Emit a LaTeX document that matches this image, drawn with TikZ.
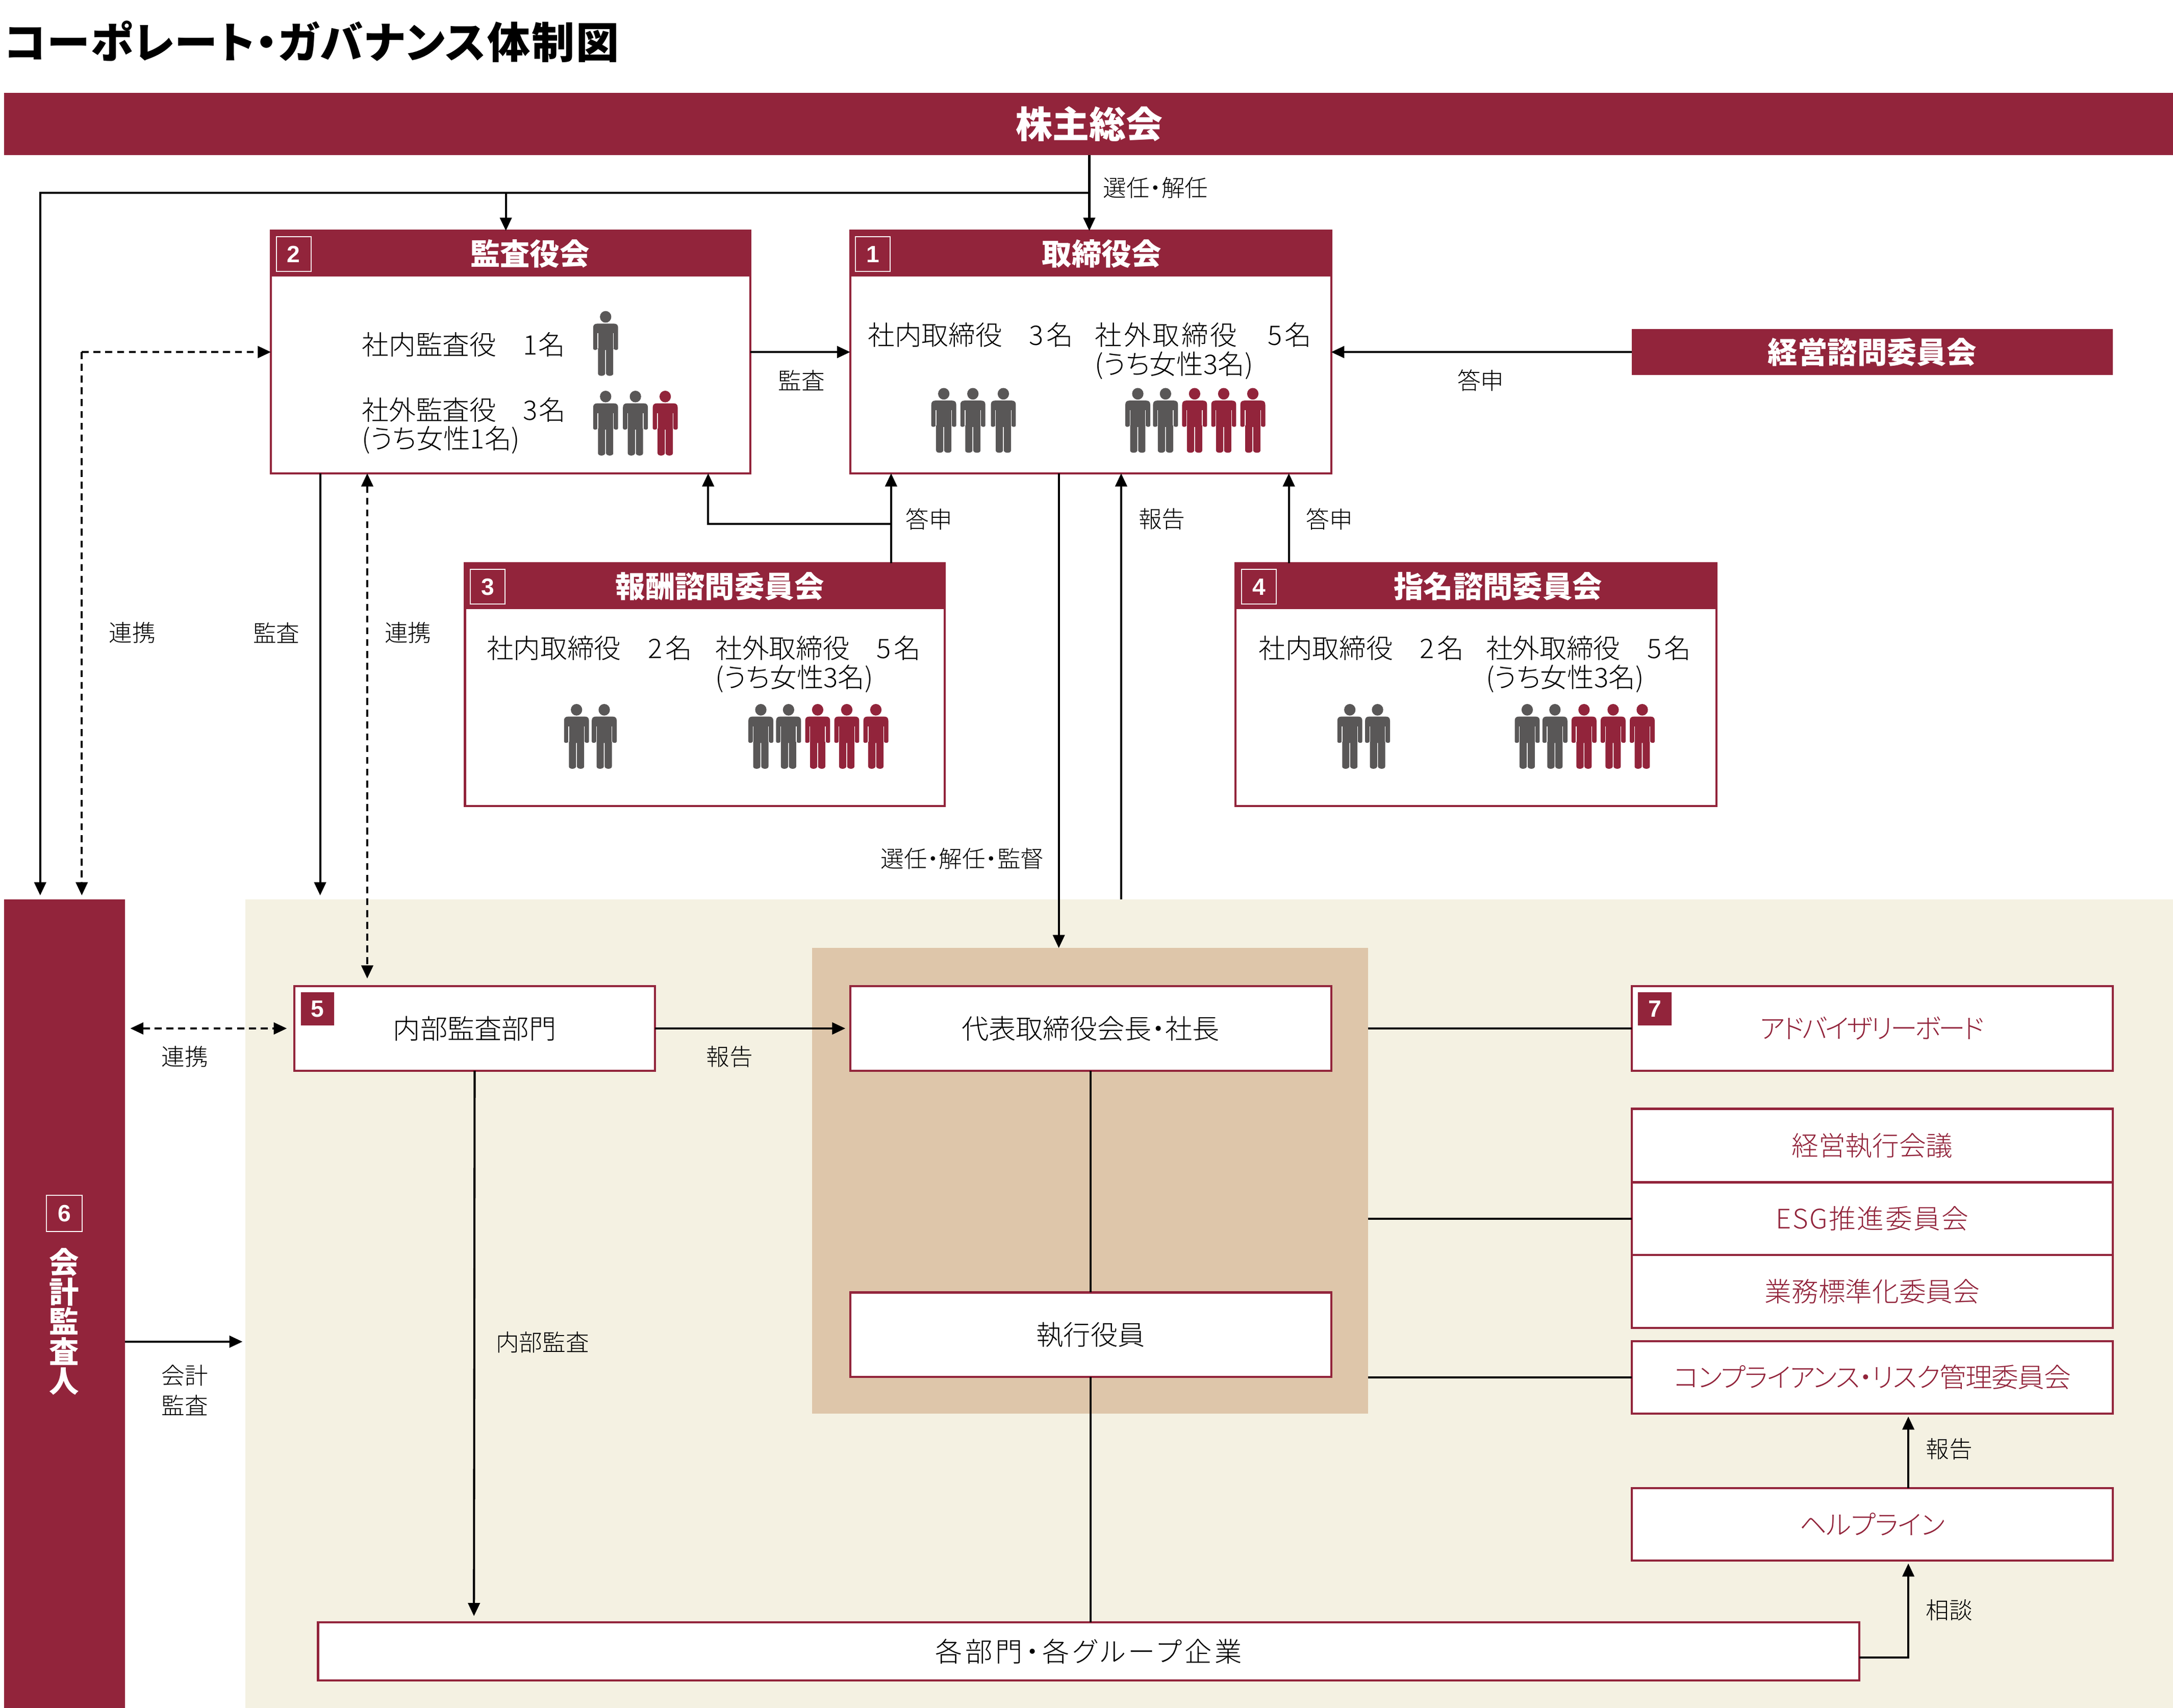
\documentclass[tikz,border=0pt]{standalone}
\usepackage{fontspec}
\setmainfont{Noto Sans CJK JP Light}[BoldFont={Noto Sans CJK JP Black},RawFeature={+palt}]
\newfontfamily\digitfont{Liberation Sans}[BoldFont={Liberation Sans Bold}]
\usetikzlibrary{arrows.meta,calc}
\definecolor{crim}{HTML}{92243B}
\definecolor{gry}{HTML}{595757}
\definecolor{crm}{HTML}{F4F1E2}
\definecolor{tan}{HTML}{DEC6AA}
\newcommand{\nd}{・}
\newcommand{\fs}[1]{\fontsize{#1}{#1}\selectfont}
\newcommand{\lsp}[1]{\addfontfeature{LetterSpace=#1}}
\newcommand{\fig}[3]{%
\begin{scope}[shift={(#1,#2)}]
\fill[#3] (0,4.1) ellipse [x radius=4.1,y radius=4.2];
\fill[#3] (-9,12) .. controls (-9,10) and (-8,9) .. (-6,9) -- (6,9) .. controls (8,9) and (9,10) .. (9,12) -- (9,27) .. controls (9,28.3) and (6.2,28.3) .. (5.8,27) -- (5.5,27) -- (5.5,45) .. controls (5.5,47.2) and (0.6,47.2) .. (0.3,45) -- (0.3,28) -- (-0.3,28) -- (-0.3,45) .. controls (-0.6,47.2) and (-5.5,47.2) .. (-5.5,45) -- (-5.5,27) -- (-5.8,27) .. controls (-6.2,28.3) and (-9,28.3) .. (-9,27) -- cycle;
\draw[white,line width=.5] (-5.6,16) -- (-5.6,27) (5.6,16) -- (5.6,27);
\end{scope}}
\tikzset{
 x=1pt,y=-1pt,
 conn/.style={line width=1.5,black},
 arr/.style={conn,-{Triangle[length=9.5,width=8.5]}},
 darr/.style={conn,dash pattern=on 5 off 3.5,{Triangle[length=9.5,width=8.5]}-{Triangle[length=9.5,width=8.5]}},
 dsarr/.style={conn,dash pattern=on 5 off 3.5,-{Triangle[length=9.5,width=8.5]}},
 lab/.style={inner sep=0,yshift=-.5pt,xshift=.4pt,font=\fs{16.8}},
 txt/.style={inner sep=0,yshift=-.6pt,font=\fs{19.4},anchor=west},
 boxhead/.style={inner sep=0,outer sep=0,xshift=.4pt,yshift=-.5pt,fill=crim,text=white,font=\bfseries\fs{21.5},anchor=north west},
 frame/.style={draw=crim,line width=1.5,fill=white,inner sep=0,outer sep=0,xshift=.5pt,yshift=-.5pt,anchor=north west},
 rbox/.style={frame,text=crim,font=\fs{19.4}},
 wbox/.style={frame,font=\fs{19.6}},
 numo/.style={draw=white,line width=.8,text=white,inner sep=0,outer sep=0,xshift=.4pt,yshift=-.4pt,minimum width=25,minimum height=25,font=\digitfont\bfseries\fs{17},anchor=north west},
 numf/.style={fill=crim,text=white,inner sep=0,outer sep=0,minimum width=24,minimum height=24,font=\digitfont\bfseries\fs{17},anchor=north west},
}
\begin{document}
\begin{tikzpicture}
\useasboundingbox (0,0) rectangle (1568,1232.3);
\clip (0,0) rectangle (1568,1232.3);
% backgrounds
\fill[crm] (177,649) rectangle (1568,1232.3);
\node[fill=tan,inner sep=0,outer sep=0,minimum width=401,minimum height=336,anchor=north west] (tanbg) at (586,684) {};
% title
\node[inner sep=0,anchor=west,font=\bfseries\fs{31}] (title) at (3,30) {\lsp{3.2}コーポレート\nd ガバナンス体制図};
% top bar
\node[boxhead,xshift=-.4pt,yshift=.5pt,minimum width=1565,minimum height=45,font=\bfseries\fs{26.5}] (gm) at (3,67) {\hspace{1pt}株主総会};
% box 2
\node[frame,minimum width=346,minimum height=175] (b2) at (195,166) {};
\node[boxhead,minimum width=346,minimum height=33] (b2h) at (195,166) {\hspace{28pt}監査役会};
\node[numo] (n2) at (199,170.5) {2};
\node[txt] (t2a) at (261,248) {社内監査役　1\kern.5pt 名};
\node[txt] (t2b) at (261,295) {社外監査役　3\kern1pt 名};
\node[txt] (t2c) at (261,317) {(うち女性1名)};
\fig{437}{224.5}{gry}
\fig{437}{282}{gry}\fig{458.5}{282}{gry}\fig{480}{282}{crim}
% box 1
\node[frame,minimum width=347,minimum height=175] (b1) at (613,166) {};
\node[boxhead,minimum width=347,minimum height=33] (b1h) at (613,166) {\hspace{16pt}取締役会};
\node[numo] (n1) at (617,170.5) {1};
\node[txt] (t1a) at (626,241) {社内取締役　3\kern2pt 名};
\node[txt] (t1b) at (790,241) {\lsp{7}社外取締役　5\kern2pt 名};
\node[txt] (t1c) at (790,263) {(うち女性3名)};
\fig{681}{280}{gry}\fig{702}{280}{gry}\fig{724}{280}{gry}
\fig{821}{280}{gry}\fig{841}{280}{gry}\fig{862}{280}{crim}\fig{883}{280}{crim}\fig{904}{280}{crim}
% box 3
\node[frame,minimum width=346,minimum height=175] (b3) at (335,406) {};
\node[boxhead,minimum width=346,minimum height=33] (b3h) at (335,406) {\hspace{22pt}報酬諮問委員会};
\node[numo] (n3) at (339,410.5) {3};
\node[txt] (t3a) at (351,467) {社内取締役　2\kern2pt 名};
\node[txt] (t3b) at (516,467) {社外取締役　5\kern2pt 名};
\node[txt] (t3c) at (516,489) {(うち女性3名)};
\fig{416}{508}{gry}\fig{436}{508}{gry}
\fig{549}{508}{gry}\fig{569}{508}{gry}\fig{590}{508}{crim}\fig{611}{508}{crim}\fig{632}{508}{crim}
% box 4
\node[frame,minimum width=347,minimum height=175] (b4) at (891,406) {};
\node[boxhead,minimum width=347,minimum height=33] (b4h) at (891,406) {\hspace{32pt}指名諮問委員会};
\node[numo] (n4) at (895.5,410.5) {4};
\node[txt] (t4a) at (908,467) {社内取締役　2\kern2pt 名};
\node[txt] (t4b) at (1072,467) {社外取締役　5\kern2pt 名};
\node[txt] (t4c) at (1072,489) {(うち女性3名)};
\fig{974}{508}{gry}\fig{994}{508}{gry}
\fig{1102}{508}{gry}\fig{1122}{508}{gry}\fig{1143}{508}{crim}\fig{1164}{508}{crim}\fig{1185}{508}{crim}
% advisory committee
\node[boxhead,minimum width=347,minimum height=33] (adv) at (1177,237) {経営諮問委員会};
% auditor bar
\node[fill=crim,inner sep=0,outer sep=0,minimum width=87,minimum height=583.3,anchor=north west] (aud) at (3,649) {};
\node[numo,minimum width=26,minimum height=26] (n6) at (33,862) {6};
\node[inner sep=0,align=center,text=white,font=\bfseries\fs{21.5}] (audt) at (46.4,953.5) {\fontsize{21.5}{21.5}\selectfont 会\\計\\監\\査\\人};
% lower boxes
\node[wbox,minimum width=260,minimum height=61] (b5) at (212,711) {内部監査部門};
\node[numf] (n5) at (217,716) {5};
\node[wbox,minimum width=347,minimum height=61] (ceo) at (613,711) {代表取締役会長\nd 社長};
\node[wbox,minimum width=347,minimum height=61] (exe) at (613,932) {執行役員};
\node[rbox,minimum width=347,minimum height=61] (b7) at (1177,711) {\lsp{-8}アドバイザリーボード};
\node[numf] (n7) at (1182,716) {7};
\node[rbox,minimum width=347,minimum height=53] (r1) at (1177,799.5) {経営執行会議};
\node[rbox,minimum width=347,minimum height=52.5] (r2) at (1177,852.5) {\lsp{5}ESG推進委員会};
\node[rbox,minimum width=347,minimum height=52.5] (r3) at (1177,905) {業務標準化委員会};
\node[rbox,minimum width=347,minimum height=52.5] (r4) at (1177,967) {\lsp{-3}コンプライアンス\nd リスク管理委員会};
\node[rbox,minimum width=347,minimum height=52.5] (r5) at (1177,1073) {\lsp{-2}ヘルプライン};
\node[wbox,minimum width=1112,minimum height=42] (dept) at (229,1170) {\lsp{11}各部門\nd 各グループ企業};
% named junctions
\coordinate (j1) at (786,139);
\coordinate (j2) at (365,139);
\coordinate (j3) at (29,139);
\coordinate (j4) at (29,646);
\coordinate (j5) at (59,646);
\coordinate (j6) at (59,254);
\coordinate (j7) at (643,378);
\coordinate (j8) at (511,378);
\coordinate (j9) at (1377,1196);
\coordinate (a1) at (94,742);
\coordinate (a2) at (207,742);
\coordinate (a3) at (175,968);
\coordinate (a4) at (231,646);
\coordinate (a5) at (265,706);
\coordinate (a6) at (764,684);
\coordinate (a7) at (809,649);
\coordinate (a8) at (610,742);
\coordinate (a9) at (342,1166);
% connectors
\draw[arr] (gm.south -| j1) -- (b1.north -| j1);
\draw[arr] (j1) -- (j3) -- (j4);
\draw[arr] (j2) -- (b2.north -| j2);
\draw[dsarr] (j5 |- b2.west) -- (b2.west);
\draw[dsarr] (j6) -- (j5);
\draw[arr] (b2.east |- 0,254) -- (b1.west |- 0,254);
\draw[arr] (adv.west) -- (b1.east |- adv.west);
\draw[arr] (b2.south -| a4) -- (a4);
\draw[darr] (b2.south -| a5) -- (a5);
\draw[arr] (b3.north -| j7) -- (b1.south -| j7);
\draw[arr] (j7) -- (j8) -- (b2.south -| j8);
\draw[arr] (b4.north -| 930,0) -- (b1.south -| 930,0);
\draw[arr] (b1.south -| a6) -- (a6);
\draw[arr] (a7) -- (b1.south -| a7);
\draw[darr] (a1) -- (a2);
\draw[arr] (b5.east) -- (a8);
\draw[arr] (aud.east |- a3) -- (a3);
\draw[arr] (b5.south) -- (a9);
\draw[conn] (ceo.south) -- (exe.north);
\draw[conn] (exe.south) -- (dept.north -| exe.south);
\draw[conn] (tanbg.east |- b7.west) -- (b7.west);
\draw[conn] (tanbg.east |- r2.west) -- (r2.west);
\draw[conn] (tanbg.east |- r4.west) -- (r4.west);
\draw[arr] (r5.north -| j9) -- ($(r4.south -| j9)+(0,2)$);
\draw[arr] (dept.east |- j9) -- (j9) -- ($(r5.south -| j9)+(0,2)$);
% labels
\node[lab] (l1) at (833.5,135) {選任\nd 解任};
\node[lab] (l2) at (578,274) {監査};
\node[lab] (l3) at (1068,274) {答申};
\node[lab] (l4) at (95,456) {連携};
\node[lab] (l5) at (199,456) {監査};
\node[lab] (l6) at (294,456) {連携};
\node[lab] (l7) at (670,374) {答申};
\node[lab] (l8) at (838,374) {報告};
\node[lab] (l9) at (959,374) {答申};
\node[lab] (l10) at (694,619) {選任\nd 解任\nd 監督};
\node[lab] (l11) at (133,762) {連携};
\node[lab] (l12) at (526,762) {報告};
\node[lab,align=center,font=\fontsize{16.8}{21.5}\selectfont] (l13) at (133,1002.5) {会計\\監査};
\node[lab] (l14) at (391,968) {内部監査};
\node[lab] (l15) at (1406,1045) {報告};
\node[lab] (l16) at (1406,1161) {相談};
\end{tikzpicture}
\end{document}
